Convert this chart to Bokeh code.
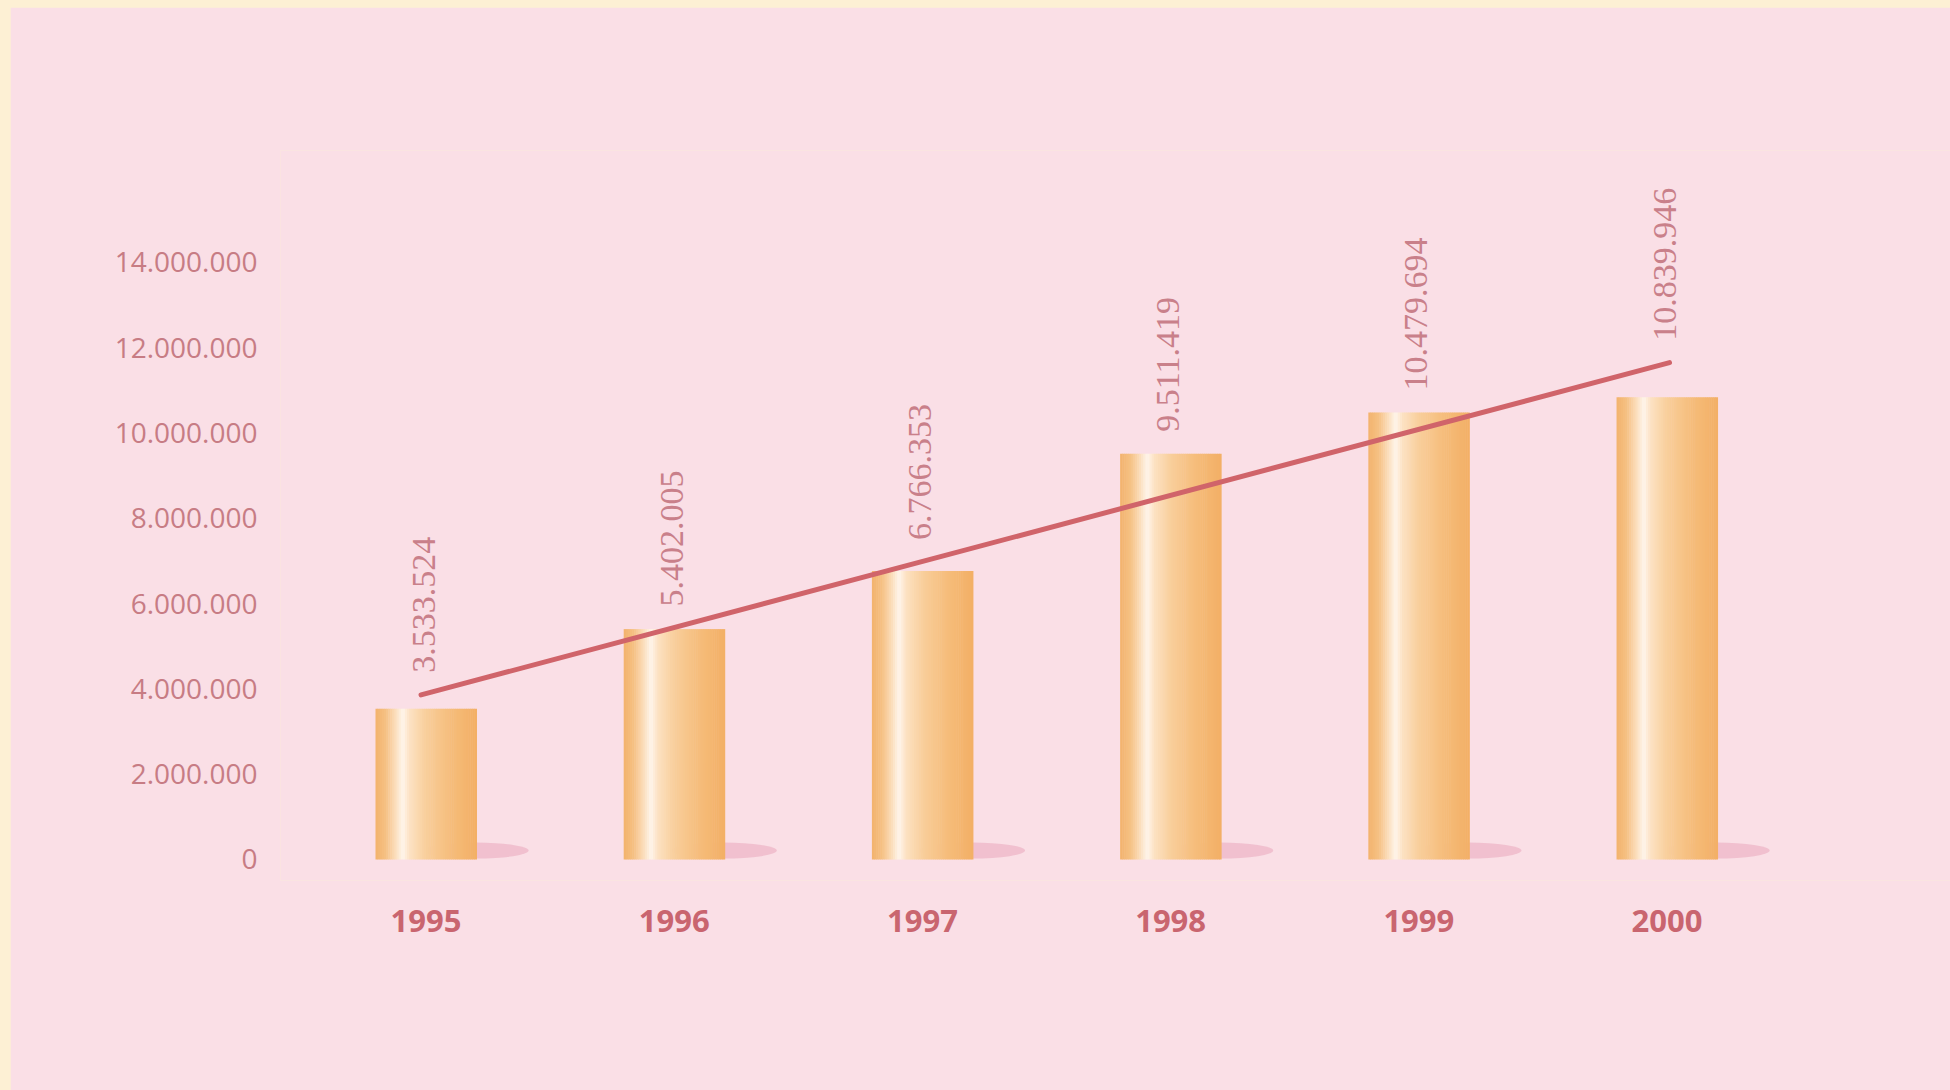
import numpy as np
from bokeh.plotting import figure
from bokeh.models import Range1d, FixedTicker, GlobalInlineStyleSheet
from bokeh.core.properties import value
from bokeh.embed import file_html
from bokeh.resources import INLINE

# ---- data ----
years = ["1995", "1996", "1997", "1998", "1999", "2000"]
amounts = [3533524, 5402005, 6766353, 9511419, 10479694, 10839946]
amount_labels = ["3.533.524", "5.402.005", "6.766.353", "9.511.419", "10.479.694", "10.839.946"]
trend_values = [3860000, 11650000]          # trend line at first and last year
y_ticks = [0, 2000000, 4000000, 6000000, 8000000, 10000000, 12000000, 14000000]
y_tick_labels = ["0", "2.000.000", "4.000.000", "6.000.000", "8.000.000",
                 "10.000.000", "12.000.000", "14.000.000"]

# ---- styling ----
BG = "#fadfe6"
PAGE = "#fdf0d4"
TICK_COL = "#c77c84"
YEAR_COL = "#c9656f"
VAL_COL = "#c9808a"
LINE_COL = "#d0646a"
SHADOW = "#efbccc"

xs = np.arange(len(years), dtype=float)

p = figure(width=1940, height=1083, output_backend="svg", toolbar_location=None,
           x_range=Range1d(-0.5862, 6.142), y_range=Range1d(-492400, 16624000),
           min_border_left=270, min_border_right=0, min_border_top=143,
           min_border_bottom=210)
p.stylesheets = [GlobalInlineStyleSheet(
    css="html,body{background:%s !important;overflow:hidden !important;margin:0 !important;}"
        "body{padding:7px 0 0 10px !important;box-sizing:border-box !important;}" % PAGE)]
p.background_fill_color = BG
p.border_fill_color = BG
p.outline_line_color = None
p.grid.visible = False

# shadows at the foot of each bar
p.ellipse(x=xs + 0.2, y=[210000] * len(xs), width=106, height=16,
          width_units="screen", height_units="screen",
          fill_color=SHADOW, fill_alpha=0.9, line_color=None)

# cylinder-like bars made of thin vertical gradient strips
stops_f = [0.0, 0.10, 0.20, 0.27, 0.34, 0.50, 0.75, 1.0]
stops_c = ["#f3b36d", "#f6c184", "#fcdfbe", "#fff6ec", "#fde2c2", "#f9cf9c", "#f6bd7b", "#f3b066"]
rgb = np.array([[int(c[i:i + 2], 16) for i in (1, 3, 5)] for c in stops_c], dtype=float)
N = 48
half_w = 0.2035
fr = (np.arange(N) + 0.5) / N
cols = []
for f in fr:
    r = np.interp(f, stops_f, rgb[:, 0])
    g = np.interp(f, stops_f, rgb[:, 1])
    b = np.interp(f, stops_f, rgb[:, 2])
    cols.append("#%02x%02x%02x" % (int(r), int(g), int(b)))

for xc, v in zip(xs, amounts):
    edges = np.linspace(xc - half_w, xc + half_w, N + 1)
    p.quad(left=edges[:-1], right=edges[1:] + 0.002, bottom=[0] * N, top=[v] * N,
           fill_color=cols, line_color=None)

# trend line
p.line(x=[xs[0] - 0.02, xs[-1] + 0.01], y=trend_values, line_color=LINE_COL,
       line_width=5, line_cap="round")

# value labels, vertical
trend_at = np.interp(xs, [xs[0], xs[-1]], trend_values)
base = np.maximum(np.array(amounts, dtype=float), trend_at) + 516000
p.text(x=xs - 0.01, y=base, text=amount_labels, angle=np.pi / 2,
       text_align="left", text_baseline="middle",
       text_font=value("Liberation Sans Narrow"), text_font_size="34px",
       text_color=VAL_COL)

# axes
p.yaxis.ticker = FixedTicker(ticks=y_ticks)
p.yaxis.major_label_overrides = {t: l for t, l in zip(y_ticks, y_tick_labels)}
p.yaxis.axis_line_color = None
p.yaxis.major_tick_line_color = None
p.yaxis.minor_tick_line_color = None
p.yaxis.major_tick_out = 0
p.yaxis.major_label_standoff = 23
p.yaxis.major_label_text_font = "Open Sans"
p.yaxis.major_label_text_font_size = "28px"
p.yaxis.major_label_text_color = TICK_COL

p.xaxis.ticker = FixedTicker(ticks=list(xs))
p.xaxis.major_label_overrides = {float(i): y for i, y in zip(xs, years)}
p.xaxis.axis_line_color = None
p.xaxis.major_tick_line_color = None
p.xaxis.minor_tick_line_color = None
p.xaxis.major_tick_out = 0
p.xaxis.major_label_standoff = 29
p.xaxis.major_label_text_font = "Open Sans"
p.xaxis.major_label_text_font_style = "bold"
p.xaxis.major_label_text_font_size = "31px"
p.xaxis.major_label_text_color = YEAR_COL

open("out.html", "w").write(file_html(p, INLINE))
